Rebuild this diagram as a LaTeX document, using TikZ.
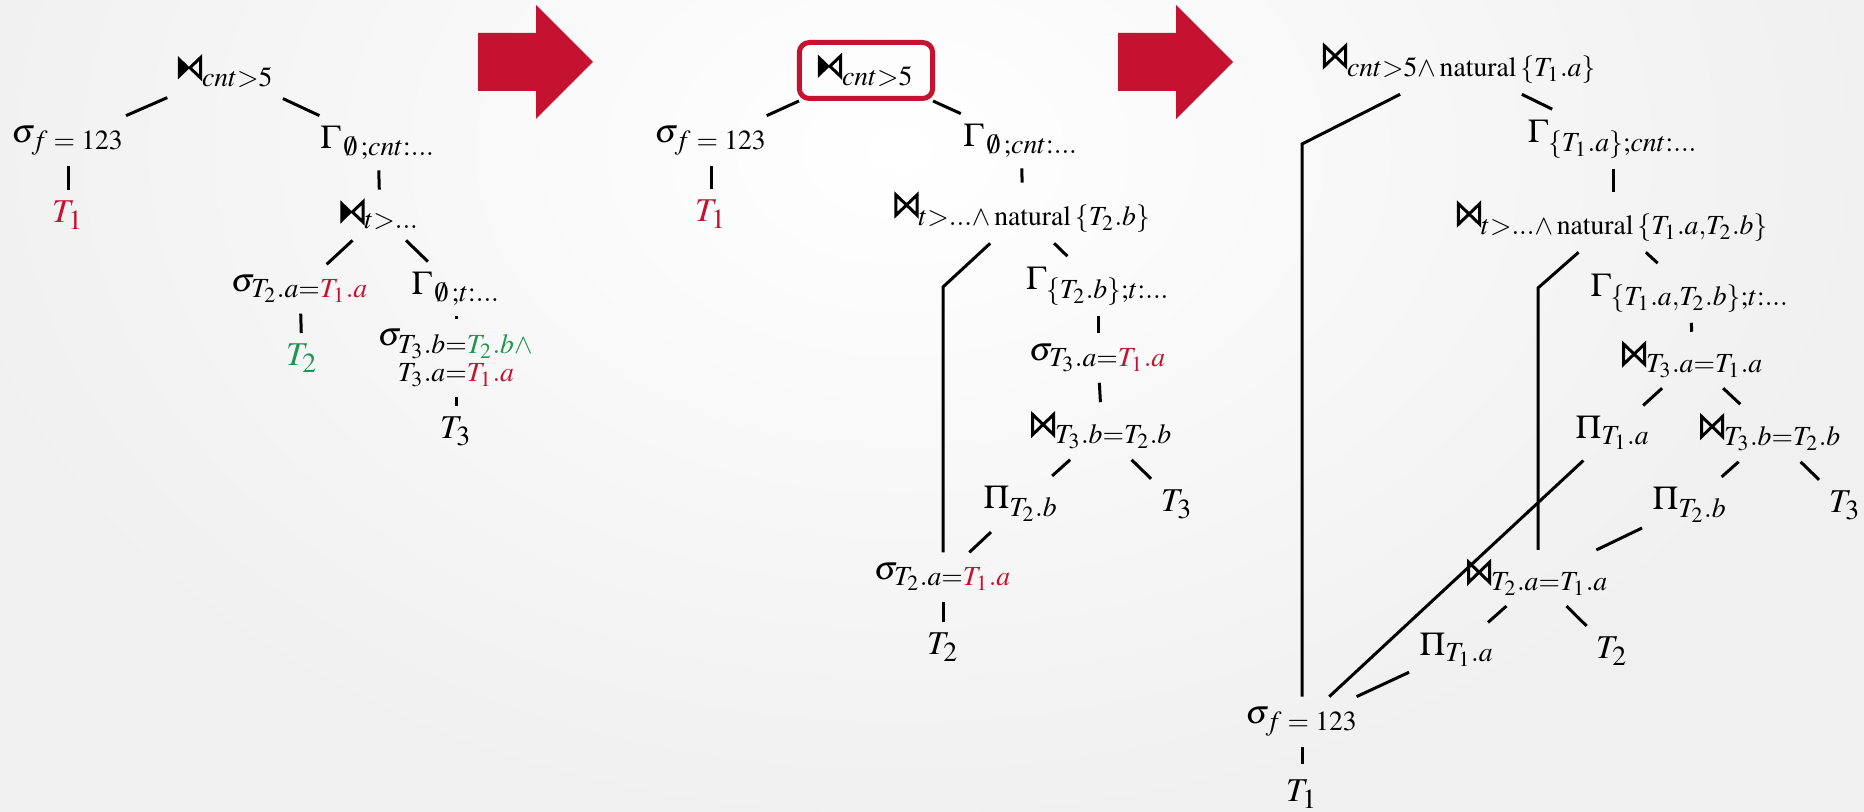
\documentclass[tikz,border=0pt]{standalone}
\usepackage{amsmath}
\usepackage{mathptmx}
\usepackage{xcolor}
\DeclareMathSizes{10}{10}{8.3}{6.5}
\definecolor{cred}{RGB}{196,18,48}
\definecolor{cgreen}{RGB}{30,150,80}
\tikzset{bowtiepic/.style={baseline=0pt,x=1pt,y=1pt,sharp corners,solid,line width=0.9pt,line join=miter,draw=black,fill=black}}
% placeholder of the filled bowtie's size; the bowtie itself is drawn as a pic at the node's text anchor
\newcommand{\JF}{\mathord{\hbox to 7.25pt{\vrule width 0pt height 7pt depth 0pt\hss}}}
\newcommand{\JO}{\mathord{\tikz[bowtiepic]{\draw[black,line width=0.9pt] (0.45,0.45)--(6.8,6.55)--(6.8,0.45)--(0.45,6.55)--cycle;}}}
\newcommand{\rd}[1]{{\color{cred}#1}}
\newcommand{\gr}[1]{{\color{cgreen}#1}}
\newcommand{\es}{\mkern2mu\emptyset\mkern2mu}
\begin{document}
\begin{tikzpicture}[x=0.3pt,y=-0.3pt,
  tn/.style={inner sep=3pt},
  edge/.style={line width=0.9pt},
  redbox/.style={draw=cred,line width=1.5pt,rounded corners=3pt,minimum width=40pt,minimum height=16.8pt},
  bigarrow/.style={fill=cred},
  jf/.pic={\begin{scope}[x=1pt,y=1pt,sharp corners,line join=miter]
      \fill[black] (0,0)--(3.6,3.5)--(0,7)--cycle;
      \draw[black,line width=0.9pt] (6.8,0.45)--(3.6,3.5)--(6.8,6.55)--cycle;
    \end{scope}}]
% background
\begin{scope}
\clip (0,0) rectangle (1864,812);
\shade[inner color=white, outer color=black!6] (-100,-550) rectangle (1900,850);
\end{scope}
\useasboundingbox (0,0) rectangle (1864,812);

% arrows
\fill[bigarrow] (478,33) -- (536,33) -- (536,5) -- (593,62) -- (536,119) -- (536,91) -- (478,91) -- cycle;
\fill[bigarrow] (1118,33) -- (1176,33) -- (1176,5) -- (1233,62) -- (1176,119) -- (1176,91) -- (1118,91) -- cycle;

% ---------- tree 1 ----------
\node[tn] (a1) at (226,72) {$\JF_{cnt>5}$};
\node[tn] (a2) at (68,141) {$\sigma_{f\;=\;123}$};
\node[tn,text=cred] (a3) at (68,215) {$T_1$};
\node[tn] (a4) at (378,143) {$\Gamma_{\es;cnt:\ldots}$};
\node[tn] (a5) at (380,215) {$\JF_{t>\ldots}$};
\node[tn] (a6) at (300,289) {$\sigma_{T_2.a=\rd{T_1.a}}$};
\node[tn,text=cgreen] (a7) at (302,358) {$T_2$};
\node[tn] (a8) at (456,289) {$\Gamma_{\es;t:\ldots}$};
\node[tn] (a9) at (456,358) {$\sigma_{\vtop{\baselineskip=8.3pt\hbox{$\scriptstyle T_3.b=\gr{T_2.b\wedge}$}\hbox{$\scriptstyle T_3.a=\rd{T_1.a}$}}}$};
\node[tn] (a10) at (456,431) {$T_3$};
\pic at (a1.text) {jf};
\pic at (a5.text) {jf};
\draw[edge] (a1) -- (a2);
\draw[edge] (a1) -- (a4);
\draw[edge] (a2) -- (a3);
\draw[edge] (a4) -- (a5);
\draw[edge] (a5) -- (a6);
\draw[edge] (a5) -- (a8);
\draw[edge] (a6) -- (a7);
\draw[edge] (a8) -- (a9);
\draw[edge] (a9) -- (a10);

% ---------- tree 2 ----------
\node[tn,redbox] (b1) at (866,70.5) {$\JF_{cnt>5}$};
\node[tn] (b2) at (711,141) {$\sigma_{f\;=\;123}$};
\node[tn,text=cred] (b3) at (711,214) {$T_1$};
\node[tn] (b4) at (1021,141) {$\Gamma_{\es;cnt:\ldots}$};
\node[tn] (b5) at (1023,213) {$\JO_{t>\ldots\wedge\:\mathrm{natural}\:\{T_2.b\}}$};
\node[tn] (b6) at (1098,286) {$\Gamma_{\{T_2.b\};t:\ldots}$};
\node[tn] (b7) at (1098,358) {$\sigma_{T_3.a=\rd{T_1.a}}$};
\node[tn] (b8) at (1102,431) {$\JO_{T_3.b=T_2.b}$};
\node[tn] (b9) at (1021,504) {$\Pi_{T_2.b}$};
\node[tn] (b10) at (1177,504) {$T_3$};
\node[tn] (b11) at (943,577) {$\sigma_{T_2.a=\rd{T_1.a}}$};
\node[tn] (b12) at (943,647) {$T_2$};
\pic at (b1.text) {jf};
\coordinate (k0) at (943,287);
\draw[edge] (b1) -- (b2);
\draw[edge] (b1) -- (b4);
\draw[edge] (b2) -- (b3);
\draw[edge] (b4) -- (b5);
\draw[edge] (b5) -- (k0) -- (b11);
\draw[edge] (b5) -- (b6);
\draw[edge] (b6) -- (b7);
\draw[edge] (b7) -- (b8);
\draw[edge] (b8) -- (b9);
\draw[edge] (b8) -- (b10);
\draw[edge] (b9) -- (b11);
\draw[edge] (b11) -- (b12);

% ---------- tree 3 ----------
\node[tn] (c1) at (1460,64) {$\JO_{cnt>5\wedge\:\mathrm{natural}\:\{T_1.a\}}$};
\node[tn] (c2) at (1613,139) {$\Gamma_{\{T_1.a\};cnt:\ldots}$};
\node[tn] (c3) at (1613,222) {$\JO_{t>\ldots\wedge\:\mathrm{natural}\:\{T_1.a,T_2.b\}}$};
\node[tn] (c4) at (1690,293) {$\Gamma_{\{T_1.a,T_2.b\};t:\ldots}$};
\node[tn] (c5) at (1693,360) {$\JO_{T_3.a=T_1.a}$};
\node[tn] (c6) at (1613,433) {$\Pi_{T_1.a}$};
\node[tn] (c7) at (1771,433) {$\JO_{T_3.b=T_2.b}$};
\node[tn] (c8) at (1690,505) {$\Pi_{T_2.b}$};
\node[tn] (c9) at (1845,505) {$T_3$};
\node[tn] (c10) at (1538,578) {$\JO_{T_2.a=T_1.a}$};
\node[tn] (c11) at (1457,650) {$\Pi_{T_1.a}$};
\node[tn] (c12) at (1612,651) {$T_2$};
\node[tn] (c13) at (1302,722) {$\sigma_{f\;=\;123}$};
\node[tn,inner sep=1.5pt] (c14) at (1302,794) {$T_1$};
\coordinate (k1) at (1302,144);
\coordinate (k2) at (1538,288);
\draw[edge] (c1) -- (k1) -- (c13);
\draw[edge] (c1) -- (c2);
\draw[edge] (c2) -- (c3);
\draw[edge] (c3) -- (k2) -- (c10);
\draw[edge] (c3) -- (c4);
\draw[edge] (c4) -- (c5);
\draw[edge] (c5) -- (c6);
\draw[edge] (c5) -- (c7);
\draw[edge] (c7) -- (c8);
\draw[edge] (c7) -- (c9);
\draw[edge] (c6) -- (c13);
\draw[edge] (c8) -- (c10);
\draw[edge] (c10) -- (c11);
\draw[edge] (c10) -- (c12);
\draw[edge] (c11) -- (c13);
\draw[edge,shorten >=3pt] (c13) -- (c14);
\end{tikzpicture}
\end{document}
